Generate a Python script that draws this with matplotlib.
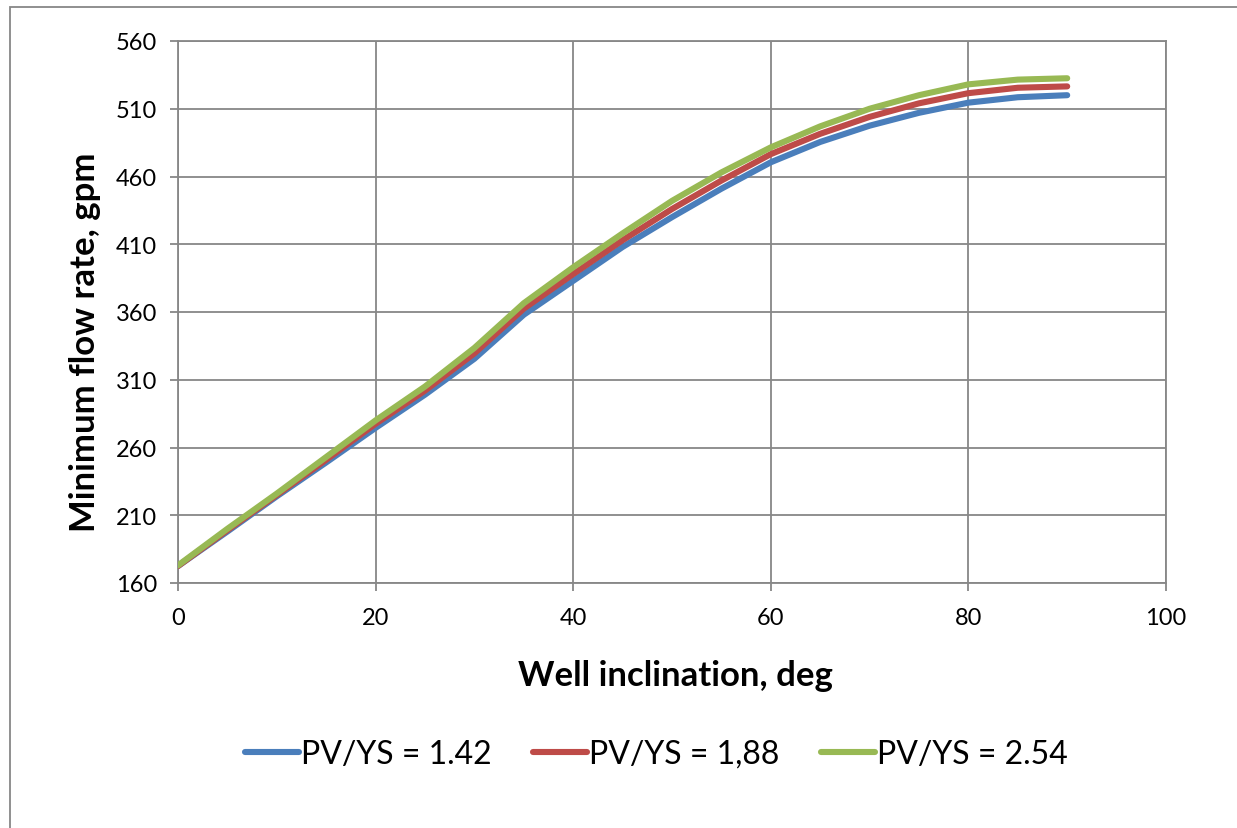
import matplotlib
matplotlib.use("Agg")
import matplotlib.pyplot as plt
from matplotlib.patches import Rectangle

# well inclination, deg
incl = [0, 5, 10, 15, 20, 25, 30, 35, 40, 45, 50, 55, 60, 65, 70, 75, 80, 85, 90]

# minimum flow rate, gpm
q_142 = [172.5, 198, 224, 249, 274.5, 299, 325.5, 358, 383, 408, 430, 451, 470.5, 485.5, 497.5, 507, 514.5, 518.5, 520]
q_188 = [172.5, 199, 225, 251, 277.5, 302, 329.5, 362.5, 388, 413, 436, 457, 476.5, 491.5, 504, 514, 521.5, 525.5, 526.5]
q_254 = [173, 200, 226, 253, 280, 305, 333.5, 366.5, 393, 418, 442, 463, 481.5, 497, 510, 520, 528, 531.5, 532.5]

labels = ["PV/YS = 1.42", "PV/YS = 1,88", "PV/YS = 2.54"]
colors = ["#4a7ebb", "#be4b48", "#98b954"]

W, H = 1237, 829
fig = plt.figure(figsize=(W / 100, H / 100), dpi=100)
ax = fig.add_axes([178 / W, 1 - 584 / H, (1166 - 178) / W, (584 - 42) / H])

grid_c = "#878787"
for y, lab, c in zip([q_142, q_188, q_254], labels, colors):
    ax.plot(incl, y, color=c, lw=4.4, solid_capstyle="round", solid_joinstyle="round", label=lab, zorder=3)

ax.set_xlim(0, 100)
ax.set_ylim(160, 560)
ax.set_xticks(range(0, 101, 20))
ax.set_yticks(range(160, 561, 50))
ax.grid(True, color=grid_c, lw=1.3)
ax.set_axisbelow(True)
for s in ax.spines.values():
    s.set_color(grid_c)
    s.set_linewidth(1.3)
ax.tick_params(axis="both", direction="out", length=6, width=1.3, color=grid_c,
               labelsize=17, labelcolor="black")
ax.tick_params(axis="x", pad=11)
ax.tick_params(axis="y", pad=9)
for t in ax.get_xticklabels() + ax.get_yticklabels():
    t.set_fontfamily("Lato")

fig.text(675.5 / W, 1 - 676 / H, "Well inclination, deg", ha="center", va="center",
         fontsize=25, fontweight="bold", family="Lato")
fig.text(85 / W, 1 - 342 / H, "Minimum flow rate, gpm", ha="center", va="center",
         rotation=90, fontsize=25, fontweight="bold", family="Lato")

leg = fig.legend(loc="center", bbox_to_anchor=(656 / W, 1 - 755 / H), ncol=3, frameon=False,
                 prop={"family": "Lato", "size": 23}, handlelength=1.7, handletextpad=0.05,
                 columnspacing=1.3)

# outer chart frame
fig.patches.append(Rectangle((10 / W, -0.1), 1.2, 1 - 8 / H + 0.1, transform=fig.transFigure,
                             fill=False, edgecolor=grid_c, lw=1.3))

fig.savefig("out.png", dpi=100)
